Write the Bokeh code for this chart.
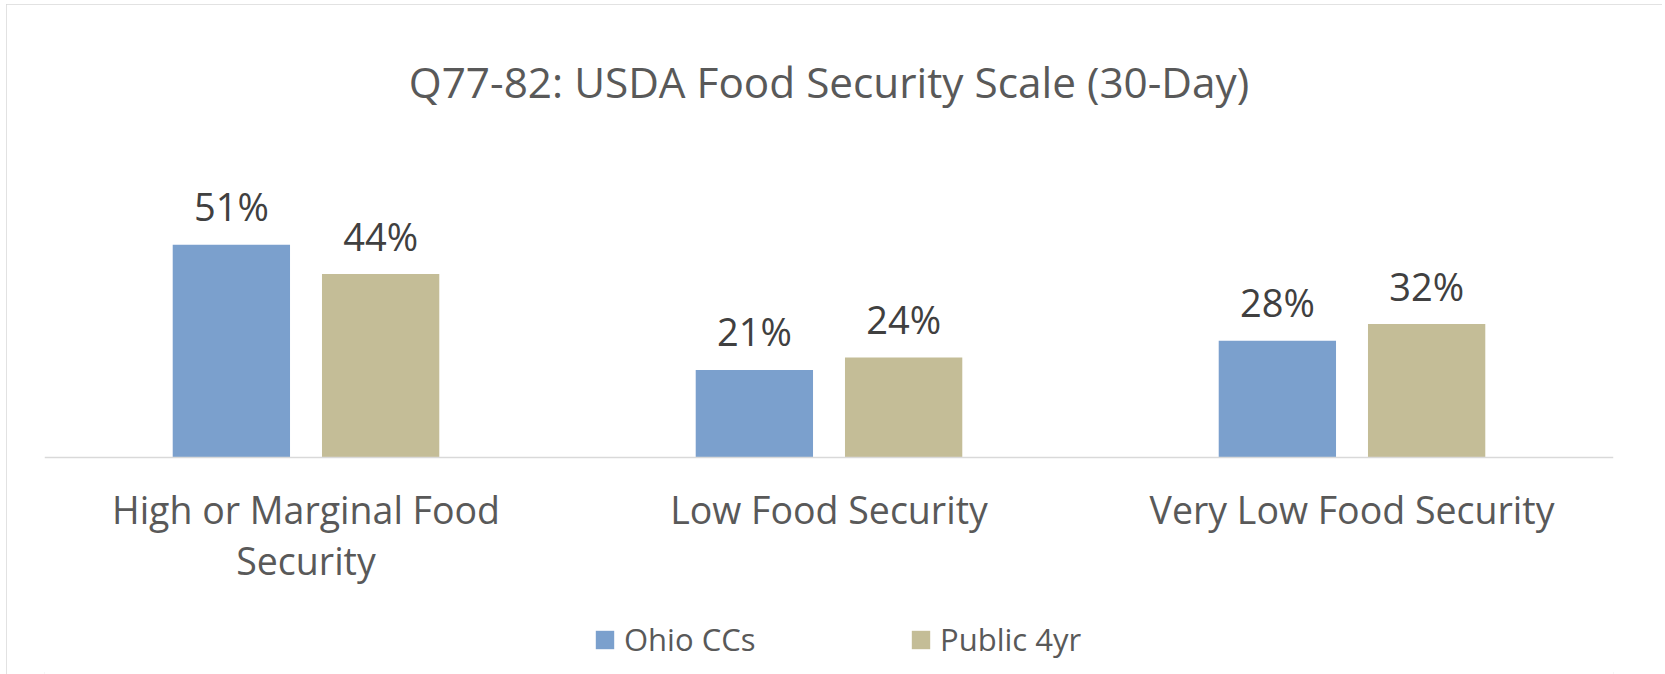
from bokeh.plotting import figure
from bokeh.models import FactorRange, Range1d, ColumnDataSource, Legend, LegendItem
from bokeh.transform import dodge
from bokeh.core.properties import value
from bokeh.embed import file_html
from bokeh.resources import INLINE

# ---- data ----
title_text = "Q77-82: USDA Food Security Scale (30-Day)"
categories = ["High or Marginal Food\nSecurity", "Low Food Security", "Very Low Food Security"]
series_names = ["Ohio CCs", "Public 4yr"]
ohio_ccs = [51, 21, 28]
public_4yr = [44, 24, 32]
series_colors = ["#7BA0CD", "#C4BD97"]

# ---- layout constants (figure-local pixels) ----
W, H = 1656, 670
FRAME_L, FRAME_R, FRAME_T = 38, 1607, 124
BASE_Y = 453            # pixel row of the category axis
PX_PER_PCT = 4.17
y_max = (BASE_Y - FRAME_T) / PX_PER_PCT
y_min = -(H - BASE_Y) / PX_PER_PCT
BAR_W = 0.2243
OFF = 0.1427
FONT = "Open Sans"
TXT = "#595959"

src = ColumnDataSource(dict(
    cat=categories,
    ohio=ohio_ccs,
    pub=public_4yr,
    ohio_lbl=[f"{v}%" for v in ohio_ccs],
    pub_lbl=[f"{v}%" for v in public_4yr],
))

p = figure(
    width=W, height=H,
    x_range=FactorRange(factors=categories, range_padding=0),
    y_range=Range1d(y_min, y_max),
    output_backend="svg", toolbar_location=None,
    y_axis_location=None,
    min_border_left=FRAME_L, min_border_right=W - FRAME_R,
    min_border_top=FRAME_T, min_border_bottom=0,
    background_fill_color="white", border_fill_color="white",
    outline_line_color=None,
    styles={"outline": "2px solid #d9d9d9", "outline-offset": "-2px",
            "margin-left": "6px", "margin-top": "4px"},
)

p.title.text = title_text
p.title.align = "center"
p.title.text_font = FONT
p.title.text_font_size = "42.3px"
p.title.text_font_style = "normal"
p.title.text_color = TXT
p.title.standoff = 38

p.xgrid.visible = False
p.ygrid.visible = False

ax = p.xaxis[0]
ax.fixed_location = 0
ax.axis_line_color = "#d9d9d9"
ax.axis_line_width = 1.5
ax.major_tick_line_color = None
ax.minor_tick_line_color = None
ax.major_tick_out = 0
ax.major_tick_in = 0
ax.major_label_text_font = FONT
ax.major_label_text_font_size = "37.5px"
ax.major_label_text_color = TXT
ax.major_label_text_line_height = 1.0
ax.major_label_standoff = 26

r1 = p.vbar(x=dodge("cat", -OFF, range=p.x_range), top="ohio", width=BAR_W,
            source=src, fill_color=series_colors[0], line_color=None)
r2 = p.vbar(x=dodge("cat", OFF, range=p.x_range), top="pub", width=BAR_W,
            source=src, fill_color=series_colors[1], line_color=None)

for col, lbl, off in (("ohio", "ohio_lbl", -OFF), ("pub", "pub_lbl", OFF)):
    p.text(x=dodge("cat", off, range=p.x_range), y=col, text=lbl, source=src,
           y_offset=-38.5, text_align="center", text_baseline="alphabetic",
           text_font=value(FONT), text_font_size=value("38px"), text_color="#404040")

legend = Legend(
    items=[LegendItem(label=series_names[0], renderers=[r1]),
           LegendItem(label=series_names[1], renderers=[r2])],
    orientation="horizontal",
    location=(549, 14),
    padding=0, margin=0, spacing=0,
    glyph_width=23, glyph_height=23,
    label_standoff=8, label_width=285,
    label_text_font=FONT, label_text_font_size="31px", label_text_color=TXT,
    label_text_baseline="alphabetic",
    border_line_color=None, background_fill_alpha=0,
)
p.add_layout(legend)

open("out.html", "w").write(file_html(p, INLINE))
